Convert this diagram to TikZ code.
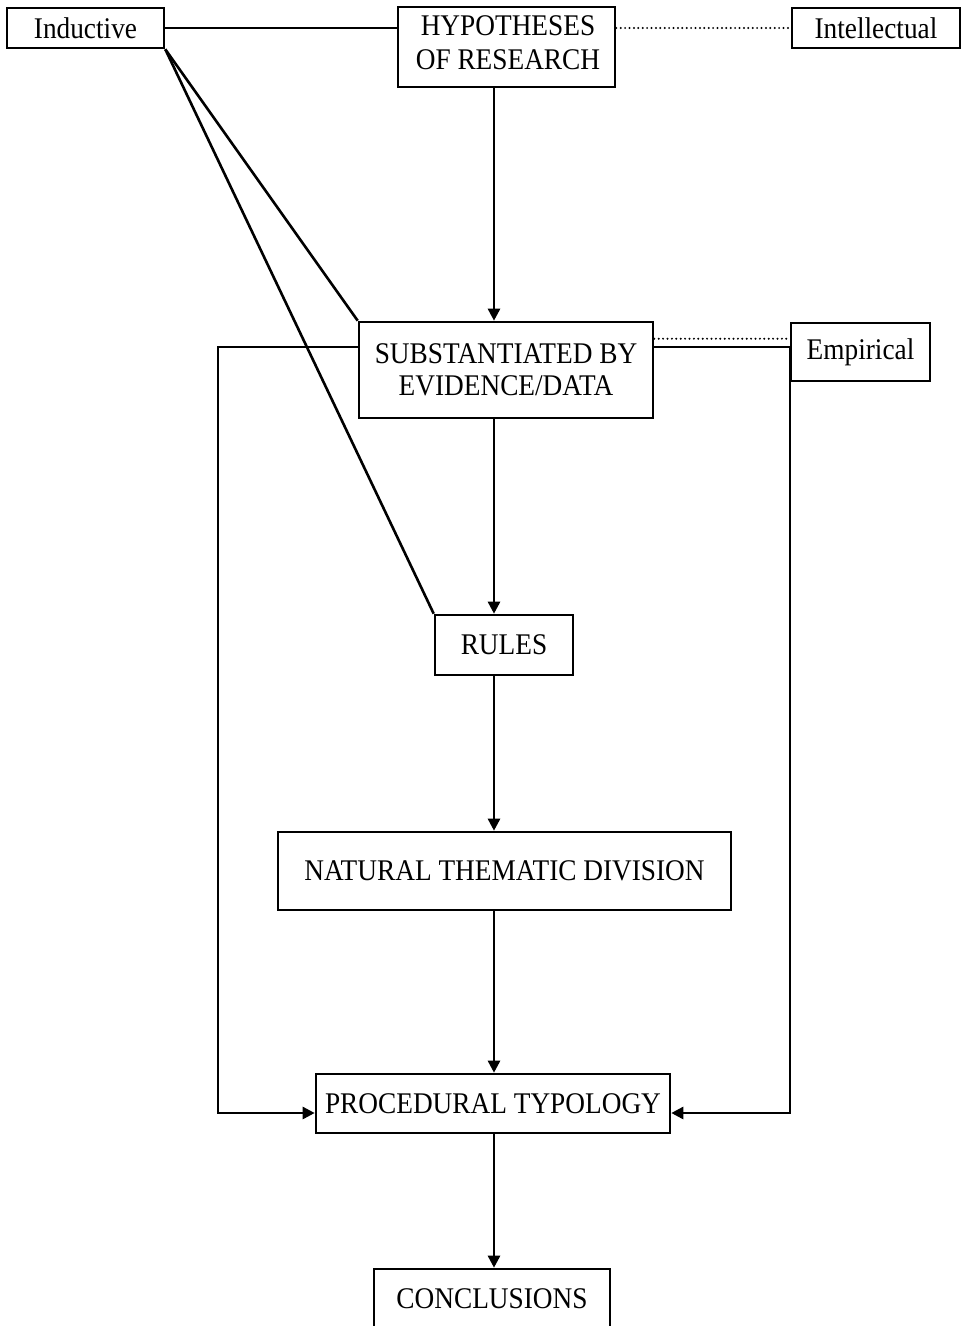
\documentclass[tikz,border=0pt]{standalone}
\usepackage{fontspec}
\setmainfont[FakeStretch=0.91]{Liberation Serif}
\usetikzlibrary{arrows.meta}

\begin{document}
\begin{tikzpicture}[x=1pt,y=-1pt,
  box/.style={draw, line width=2.6pt, inner sep=0pt, align=center,
              font=\fontsize{30}{32}\selectfont},
  link/.style={line width=2.6pt},
  flow/.style={line width=2.6pt, -{Triangle[length=12pt,width=12pt]}},
  dotline/.style={line width=2.2pt, line cap=round, dash pattern=on 0pt off 4.4pt}]

  % page frame
  \clip (0,0) rectangle (967,1326);
  \fill[white] (0,0) rectangle (967,1326);

  % boxes
  \node[box, minimum width=157pt, minimum height=40pt] (ind)   at (85.5,28)   {Inductive};
  \node[box, minimum width=217pt, minimum height=80pt] (hyp)   at (506.5,47)  {};
  \node[font=\fontsize{30}{34}\selectfont, align=center, inner sep=0pt] (hyptext) at (508,43) {HYPOTHESES\\OF RESEARCH};
  \node[box, minimum width=168pt, minimum height=40pt] (int)   at (876,28)    {Intellectual};
  \node[box, minimum width=294pt, minimum height=96pt] (sub)   at (506,370)   {SUBSTANTIATED BY\\EVIDENCE/DATA};
  \node[box, minimum width=139pt, minimum height=58pt] (emp)   at (860.5,352) {Empirical};
  \node[box, minimum width=138pt, minimum height=60pt] (rules) at (504,645)   {RULES};
  \node[box, minimum width=453pt, minimum height=78pt] (ntd)   at (504.5,871) {NATURAL THEMATIC DIVISION};
  \node[box, minimum width=354pt, minimum height=59pt] (proc)  at (493,1103.5){PROCEDURAL TYPOLOGY};
  \node[box, minimum width=236pt, minimum height=60pt] (conc)  at (492,1299)  {CONCLUSIONS};

  % guide coordinates
  \coordinate (spine) at (494,0);
  \coordinate (lrail) at (218,1113);
  \coordinate (rrail) at (790,1113);
  \coordinate (subout) at (0,347);

  % main vertical flow
  \draw[flow] (hyp.south -| spine) -- (sub.north -| spine);
  \draw[flow] (sub.south -| spine) -- (rules.north -| spine);
  \draw[flow] (rules.south -| spine) -- (ntd.north -| spine);
  \draw[flow] (ntd.south -| spine) -- (proc.north -| spine);
  \draw[flow] (proc.south -| spine) -- (conc.north -| spine);

  % top row links
  \draw[link] (ind.east) -- (ind.east -| hyp.west);
  \draw[dotline] (hyp.east |- int.west) -- (int.west);

  % inductive fan
  \draw[link] (ind.south east) -- (sub.north west);
  \draw[link] (ind.south east) -- (rules.north west);

  % empirical links
  \draw[dotline] ([yshift=-18pt]sub.north east) -- ([yshift=-18pt]sub.north east -| emp.west);
  \draw[flow] (sub.east |- subout) -- (rrail |- subout) -- (rrail) -- (rrail -| proc.east);
  \draw[flow] (sub.west |- subout) -- (lrail |- subout) -- (lrail) -- (lrail -| proc.west);
\end{tikzpicture}
\end{document}
